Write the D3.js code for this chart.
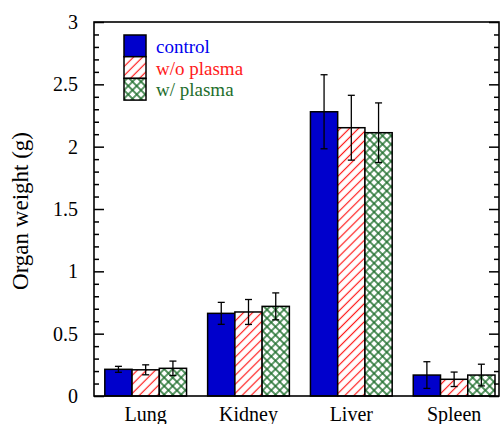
<!DOCTYPE html>
<html>
<head>
<meta charset="utf-8">
<script src="https://cdn.jsdelivr.net/npm/d3@7"></script>
<style>
  body { margin: 0; background: #fff; }
  text { font-family: "Liberation Serif", "Times New Roman", serif; }
</style>
</head>
<body>
<div id="chart"></div>
<script>
// Data
var organs = ["Lung", "Kidney", "Liver", "Spleen"];
var seriesNames = ["control", "w/o plasma", "w/ plasma"];
var controlMean = [0.214, 0.663, 2.28, 0.168];
var controlErr = [0.024, 0.088, 0.297, 0.107];
var woPlasmaMean = [0.21, 0.674, 2.152, 0.134];
var woPlasmaErr = [0.04, 0.10, 0.26, 0.058];
var wPlasmaMean = [0.222, 0.719, 2.112, 0.168];
var wPlasmaErr = [0.058, 0.108, 0.239, 0.087];
var yTicks = [0, 0.5, 1, 1.5, 2, 2.5, 3];

var svgWidth = 503, svgHeight = 424;
var margins = { top: 22, left: 94 };
var plotRight = 499, plotBottom = 396;

var svg = d3.select("#chart").append("svg")
    .attr("width", svgWidth)
    .attr("height", svgHeight);

// hatch patterns
var defs = svg.append("defs");
var red = defs.append("pattern")
    .attr("id", "hatchRed")
    .attr("patternUnits", "userSpaceOnUse")
    .attr("width", 6.4).attr("height", 6.4)
    .attr("patternTransform", "rotate(45)");
red.append("rect").attr("width", 6.4).attr("height", 6.4).attr("fill", "#fff");
red.append("line").attr("x1", 3.2).attr("y1", 0).attr("x2", 3.2).attr("y2", 6.4)
    .attr("stroke", "#ff1a1a").attr("stroke-width", 1.2);

var green = defs.append("pattern")
    .attr("id", "hatchGreen")
    .attr("patternUnits", "userSpaceOnUse")
    .attr("width", 6).attr("height", 6)
    .attr("patternTransform", "rotate(45)");
green.append("rect").attr("width", 6).attr("height", 6).attr("fill", "#fff");
green.append("path").attr("d", "M3,0V6M0,3H6")
    .attr("stroke", "#1e6e2c").attr("stroke-width", 1.4);

var fills = ["#0000cc", "url(#hatchRed)", "url(#hatchGreen)"];
var textColors = ["#0000ee", "#ff1a1a", "#1e6e2c"];

var data = organs.map(function(o, i) {
    return {
        organ: o,
        values: [
            { s: 0, mean: controlMean[i], err: controlErr[i] },
            { s: 1, mean: woPlasmaMean[i], err: woPlasmaErr[i] },
            { s: 2, mean: wPlasmaMean[i], err: wPlasmaErr[i] }
        ]
    };
});

// Scales
var x0 = d3.scaleBand()
    .domain(organs)
    .range([margins.left, plotRight])
    .paddingInner(0.205)
    .paddingOuter(0.072)
    .align(0.73);

var x1 = d3.scaleBand()
    .domain([0, 1, 2])
    .range([0, x0.bandwidth()]);

var y = d3.scaleLinear()
    .domain([0, 3])
    .range([plotBottom, margins.top]);

// Bars
var groups = svg.selectAll(".group")
    .data(data)
    .enter()
    .append("g")
    .attr("transform", d => `translate(${x0(d.organ)},0)`);

groups.selectAll("rect")
    .data(d => d.values)
    .enter()
    .append("rect")
    .attr("x", d => x1(d.s))
    .attr("y", d => y(d.mean))
    .attr("width", x1.bandwidth())
    .attr("height", d => y(0) - y(d.mean))
    .attr("fill", d => fills[d.s])
    .attr("stroke", "#000")
    .attr("stroke-width", 1.5);

// Error bars
var eb = groups.selectAll(".err")
    .data(d => d.values)
    .enter()
    .append("g")
    .attr("stroke", "#000")
    .attr("stroke-width", 1.3);

eb.append("line")
    .attr("x1", d => x1(d.s) + x1.bandwidth() / 2)
    .attr("x2", d => x1(d.s) + x1.bandwidth() / 2)
    .attr("y1", d => y(d.mean + d.err))
    .attr("y2", d => y(d.mean - d.err));
[1, -1].forEach(function(k) {
    eb.append("line")
        .attr("x1", d => x1(d.s) + x1.bandwidth() / 2 - 3.5)
        .attr("x2", d => x1(d.s) + x1.bandwidth() / 2 + 3.5)
        .attr("y1", d => y(d.mean + k * d.err))
        .attr("y2", d => y(d.mean + k * d.err));
});

// Axes
var minorTicks = d3.range(0, 30).map(d => d / 10).filter(d => Math.round(d * 10) % 5 !== 0);

svg.append("g")
    .attr("transform", `translate(${margins.left},0)`)
    .call(d3.axisLeft(y).tickValues(yTicks).tickSizeInner(-10).tickSizeOuter(0).tickPadding(16).tickFormat(d3.format("")))
    .call(g => g.select(".domain").remove())
    .call(g => g.selectAll("text").attr("font-size", 20).attr("fill", "#000").style("font-family", "Liberation Serif"));

svg.append("g")
    .attr("transform", `translate(${margins.left},0)`)
    .call(d3.axisLeft(y).tickValues(minorTicks).tickSizeInner(-5).tickSizeOuter(0).tickFormat(""))
    .call(g => g.select(".domain").remove());

svg.append("g")
    .attr("transform", `translate(${plotRight},0)`)
    .call(d3.axisRight(y).tickValues(yTicks).tickSizeInner(-10).tickSizeOuter(0).tickFormat(""))
    .call(g => g.select(".domain").remove());

svg.append("g")
    .attr("transform", `translate(${plotRight},0)`)
    .call(d3.axisRight(y).tickValues(minorTicks).tickSizeInner(-5).tickSizeOuter(0).tickFormat(""))
    .call(g => g.select(".domain").remove());

svg.selectAll(".tick line").attr("stroke", "#000").attr("stroke-width", 1.5);

// frame
svg.append("rect")
    .attr("x", margins.left)
    .attr("y", margins.top)
    .attr("width", plotRight - margins.left)
    .attr("height", plotBottom - margins.top)
    .attr("fill", "none")
    .attr("stroke", "#000")
    .attr("stroke-width", 1.6);

// category labels
svg.selectAll(".cat")
    .data(organs)
    .enter()
    .append("text")
    .attr("x", d => x0(d) + x0.bandwidth() / 2)
    .attr("y", 421)
    .attr("text-anchor", "middle")
    .attr("font-size", 20)
    .text(d => d);

// y label
svg.append("text")
    .attr("transform", "rotate(-90)")
    .attr("x", -211)
    .attr("y", 28)
    .attr("text-anchor", "middle")
    .attr("font-size", 23)
    .text("Organ weight (g)");

// legend
var legend = svg.append("g").attr("transform", "translate(124,35)");
var rowH = 21.7;
seriesNames.forEach(function(name, i) {
    legend.append("rect")
        .attr("x", 0)
        .attr("y", i * rowH)
        .attr("width", 22)
        .attr("height", rowH)
        .attr("fill", fills[i])
        .attr("stroke", "#000")
        .attr("stroke-width", 1.5);
    legend.append("text")
        .attr("x", 32)
        .attr("y", i * rowH + rowH / 2 + 7)
        .attr("font-size", 19)
        .attr("fill", textColors[i])
        .text(name);
});
</script>
</body>
</html>
